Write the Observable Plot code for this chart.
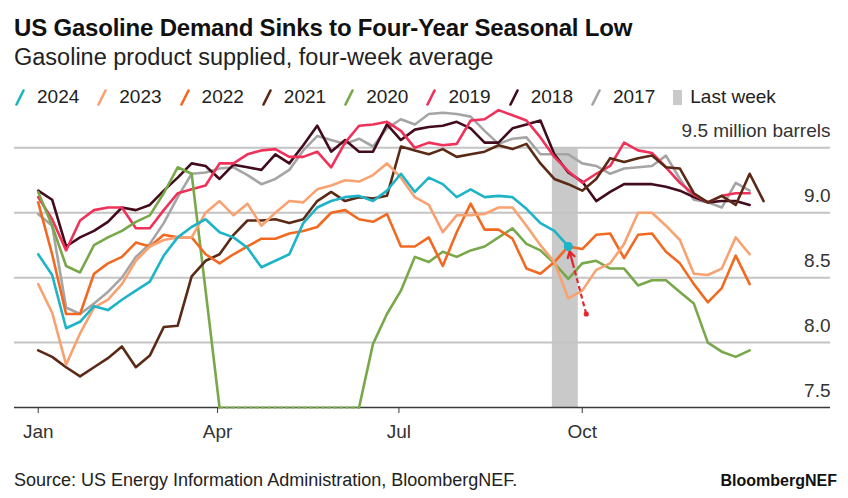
<!DOCTYPE html>
<html>
<head>
<meta charset="utf-8">
<script src="https://cdn.jsdelivr.net/npm/d3@7"></script>
<script src="https://cdn.jsdelivr.net/npm/@observablehq/plot@0.6"></script>
<style>
  body { margin: 0; background: #fff; font-family: "Liberation Sans", Arial, Helvetica, sans-serif; color: #1a1a1a; }
  #wrap { position: relative; width: 848px; height: 498px; overflow: hidden; background: #fff; }
  .title { position: absolute; left: 14px; top: 14px; font-size: 24px; font-weight: bold; line-height: 28px; letter-spacing: -0.2px; color: #111; white-space: nowrap; }
  .subtitle { position: absolute; left: 14px; top: 44px; font-size: 23.5px; line-height: 27px; color: #222; white-space: nowrap; }
  .legend { position: absolute; left: 15px; top: 86px; display: flex; gap: 18px; font-size: 19px; line-height: 22px; color: #222; white-space: nowrap; z-index: 2; }
  .legend .item { display: flex; align-items: center; }
  .legend svg { margin-right: 12px; }
  #chart { position: absolute; left: 0; top: 100px; }
  .source { position: absolute; left: 14px; top: 470px; font-size: 18px; line-height: 20px; color: #222; white-space: nowrap; }
  .brand { position: absolute; right: 11px; top: 471px; font-size: 16px; line-height: 20px; font-weight: bold; color: #111; white-space: nowrap; }
</style>
</head>
<body>
<div id="wrap">
  <div class="title">US Gasoline Demand Sinks to Four-Year Seasonal Low</div>
  <div class="subtitle">Gasoline product supplied, four-week average</div>
  <div class="legend" id="legend"></div>
  <div id="chart"></div>
  <div class="source">Source: US Energy Information Administration, BloombergNEF.</div>
  <div class="brand">BloombergNEF</div>
</div>
<script>
// ---- data (million barrels/day, four-week average, one value per week starting in early January) ----
const years = ["2024", "2023", "2022", "2021", "2020", "2019", "2018", "2017"];
const colors = ["#1db4c8", "#f9a271", "#f26a21", "#5b2a16", "#78a84a", "#f0315a", "#420c1c", "#a5a5a5"];

const y2024 = [8.68, 8.52, 8.11, 8.16, 8.28, 8.25, 8.33, 8.40, 8.47, 8.67,
               8.81, 8.89, 8.95, 8.85, 8.81, 8.73, 8.58, 8.63, 8.68, 8.92,
               9.04, 9.09, 9.12, 9.13, 9.09, 9.17, 9.30, 9.16, 9.27, 9.22,
               9.12, 9.18, 9.12, 9.13, 9.12, 9.03, 8.92, 8.86, 8.74];
const y2023 = [8.45, 8.23, 7.83, 8.07, 8.27, 8.33, 8.45, 8.63, 8.74, 8.79,
               8.81, 8.81, 9.00, 9.09, 8.98, 9.07, 8.90, 9.00, 9.09, 9.08,
               9.18, 9.21, 9.25, 9.24, 9.29, 9.38, 9.27, 9.12, 9.06, 8.85,
               8.98, 8.98, 8.99, 9.04, 9.04, 8.90, 8.75, 8.62, 8.34, 8.40,
               8.56, 8.61, 8.76, 9.00, 9.00, 8.90, 8.79, 8.53, 8.52, 8.57,
               8.81, 8.68];
const y2022 = [9.08, 8.68, 8.22, 8.22, 8.53, 8.61, 8.66, 8.77, 8.74, 8.83,
               8.81, 8.81, 8.68, 8.61, 8.68, 8.74, 8.80, 8.80, 8.84, 8.86,
               8.89, 9.00, 9.02, 8.95, 8.93, 8.99, 8.74, 8.74, 8.81, 8.59,
               8.85, 9.07, 8.87, 8.87, 8.80, 8.57, 8.53, 8.62, 8.74, 8.72,
               8.83, 8.84, 8.65, 8.83, 8.84, 8.70, 8.61, 8.45, 8.31, 8.42,
               8.67, 8.45];
const y2021 = [7.94, 7.89, 7.81, 7.74, 7.81, 7.88, 7.97, 7.81, 7.90, 8.12,
               8.13, 8.51, 8.63, 8.68, 8.83, 8.94, 8.94, 8.95, 8.92, 8.95,
               9.09, 9.16, 9.09, 9.12, 9.11, 9.13, 9.51, 9.48, 9.45, 9.49,
               9.43, 9.45, 9.47, 9.52, 9.49, 9.53, 9.38, 9.26, 9.22, 9.17,
               9.26, 9.42, 9.39, 9.42, 9.44, 9.35, 9.34, 9.15, 9.08, 9.13,
               9.06, 9.30, 9.09];
// null = below the 7.5 floor of the chart (spring 2020 lockdowns)
const y2020 = [9.16, 8.90, 8.59, 8.54, 8.75, 8.81, 8.86, 8.93, 8.98, 9.15,
               9.35, 9.30, 8.40, null, null, null, null, null, null, null,
               null, null, null, null, 7.99, 8.22, 8.40, 8.66, 8.62, 8.70,
               8.66, 8.71, 8.74, 8.81, 8.88, 8.76, 8.71, 8.61, 8.49, 8.61,
               8.63, 8.57, 8.57, 8.44, 8.48, 8.48, 8.39, 8.30, 8.00, 7.93,
               7.89, 7.94];
const y2019 = [9.12, 8.95, 8.71, 8.94, 9.02, 9.04, 9.04, 8.88, 8.88, 9.02,
               9.15, 9.18, 9.21, 9.38, 9.38, 9.45, 9.48, 9.49, 9.43, 9.43,
               9.47, 9.35, 9.54, 9.67, 9.68, 9.70, 9.63, 9.50, 9.54, 9.52,
               9.53, 9.71, 9.72, 9.79, 9.75, 9.71, 9.58, 9.43, 9.32, 9.23,
               9.30, 9.36, 9.54, 9.48, 9.46, 9.35, 9.23, 9.14, 9.08, 9.13,
               9.15, 9.15];
const y2018 = [9.17, 9.10, 8.74, 8.81, 8.86, 8.93, 9.04, 9.02, 9.06, 9.17,
               9.27, 9.38, 9.36, 9.26, 9.37, 9.35, 9.33, 9.45, 9.38, 9.52,
               9.67, 9.47, 9.56, 9.47, 9.47, 9.68, 9.56, 9.64, 9.66, 9.67,
               9.70, 9.65, 9.54, 9.54, 9.65, 9.68, 9.71, 9.45, 9.31, 9.24,
               9.09, 9.16, 9.22, 9.22, 9.22, 9.20, 9.17, 9.12, 9.08, 9.09,
               9.09, 9.06];
const y2017 = [8.99, 8.90, 8.27, 8.22, 8.30, 8.39, 8.50, 8.66, 8.76, 8.92,
               9.12, 9.30, 9.31, 9.34, 9.35, 9.29, 9.22, 9.26, 9.33, 9.48,
               9.59, 9.56, 9.53, 9.57, 9.51, 9.65, 9.72, 9.68, 9.76, 9.77,
               9.76, 9.74, 9.63, 9.53, 9.57, 9.58, 9.45, 9.45, 9.45, 9.38,
               9.36, 9.30, 9.34, 9.35, 9.36, 9.44, 9.26, 9.10, 9.08, 9.04,
               9.23, 9.17];

const daysPerWeek = 7;
const monthTicks = [0, 90, 181, 273];          // day of year: Jan 1, Apr 1, Jul 1, Oct 1
const monthLabels = ["Jan", "Apr", "Jul", "Oct"];
const yTicks = [7.5, 8.0, 8.5, 9.0, 9.5];
const unitLabel = "million barrels";
const lastWeekSpan = [258, 271];               // day of year, shaded "Last week"
const arrowTail = [275, 8.22];                 // [day, value]
const arrowHead = [266, 8.74];

// ---- build table ----
const seriesValues = [y2024, y2023, y2022, y2021, y2020, y2019, y2018, y2017];
const floor = yTicks[0];
const rows = [];
years.forEach((yr, k) => {
  const vals = seriesValues[k];
  vals.forEach((v, i) => {
    const off = v == null;
    const prevOn = i > 0 && vals[i - 1] != null;
    const nextOn = i < vals.length - 1 && vals[i + 1] != null;
    rows.push({
      year: yr, order: k, day: i * daysPerWeek, value: v, off,
      solidY: off ? ((prevOn || nextOn) ? floor : NaN) : v
    });
  });
});
// draw oldest first so 2024 ends on top
const drawRows = rows.slice().sort((a, b) => b.order - a.order || a.day - b.day);
const offRows = rows.filter(d => d.off);
const last2024 = rows.filter(d => d.year === "2024").slice(-1);

const band = [{x1: lastWeekSpan[0], x2: lastWeekSpan[1], y1: yTicks[0], y2: yTicks[yTicks.length - 1]}];
const midFrac = 0.3;
const arrowMid = [arrowHead[0] + (arrowTail[0] - arrowHead[0]) * midFrac, arrowHead[1] + (arrowTail[1] - arrowHead[1]) * midFrac];

// ---- legend ----
const legend = document.getElementById("legend");
years.forEach((yr, k) => {
  const it = document.createElement("div");
  it.className = "item";
  it.innerHTML = `<svg width="10" height="17" viewBox="0 0 10 17"><line x1="1.5" y1="15.5" x2="8.5" y2="1.5" stroke="${colors[k]}" stroke-width="2.6" stroke-linecap="round"/></svg><span>${yr}</span>`;
  legend.appendChild(it);
});
{
  const it = document.createElement("div");
  it.className = "item";
  it.innerHTML = `<svg width="9" height="15" style="margin-right:8px"><rect x="0" y="0" width="9" height="15" fill="#c9c9c9"/></svg><span>Last week</span>`;
  legend.appendChild(it);
}

const red = "#e3262d";
const chart = Plot.plot({
  width: 848,
  height: 355,
  marginTop: 47.3,
  marginBottom: 48,
  marginLeft: 14,
  marginRight: 18,
  style: {background: "transparent", overflow: "visible", fontFamily: "'Liberation Sans', Arial, sans-serif", fontSize: "19px", color: "#333"},
  x: {domain: [0, 365], range: [37.7, 765.1]},
  y: {domain: [yTicks[0], yTicks[yTicks.length - 1]]},
  color: {domain: years, range: colors},
  marks: [
    Plot.rect(band, {x1: "x1", x2: "x2", y1: "y1", y2: "y2", fill: "#c9c9c9"}),
    Plot.gridY(yTicks.slice(1), {stroke: "#c4c4c4", strokeOpacity: 1, strokeWidth: 2}),
    Plot.ruleY([yTicks[0]], {stroke: "#3a3a3a", strokeWidth: 1.5}),
    Plot.axisY(yTicks, {
      anchor: "right", tickSize: 0, tickPadding: 0, textAnchor: "end", dy: -17,
      fontSize: 19, fill: "#333", label: null,
      tickFormat: d => d === yTicks[yTicks.length - 1] ? `${d.toFixed(1)} ${unitLabel}` : d.toFixed(1)
    }),
    Plot.axisX(monthTicks, {
      tickSize: 6, tickPadding: 11, fontSize: 19, fill: "#333", stroke: "#3a3a3a", label: null,
      tickFormat: d => monthLabels[monthTicks.indexOf(d)]
    }),
    Plot.line(offRows, {x: "day", y: () => floor, z: "year", stroke: "year", strokeWidth: 2.2, strokeDasharray: "3,3"}),
    Plot.line(drawRows, {x: "day", y: "solidY", z: "year", stroke: "year", strokeWidth: 2.6, strokeLinejoin: "round", strokeLinecap: "round"}),
    Plot.link([{x1: arrowTail[0], y1: arrowTail[1], x2: arrowMid[0], y2: arrowMid[1]}],
      {x1: "x1", y1: "y1", x2: "x2", y2: "y2", stroke: red, strokeWidth: 2.2, strokeDasharray: "5,3"}),
    Plot.arrow([{x1: arrowMid[0], y1: arrowMid[1], x2: arrowHead[0], y2: arrowHead[1]}],
      {x1: "x1", y1: "y1", x2: "x2", y2: "y2", stroke: red, strokeWidth: 2.2, headLength: 8, insetEnd: 5}),
    Plot.dot([arrowTail], {x: d => d[0], y: d => d[1], r: 2.6, fill: red}),
    Plot.dot(last2024, {x: "day", y: "value", r: 4.5, fill: colors[0]})
  ]
});
document.getElementById("chart").appendChild(chart);
</script>
</body>
</html>
